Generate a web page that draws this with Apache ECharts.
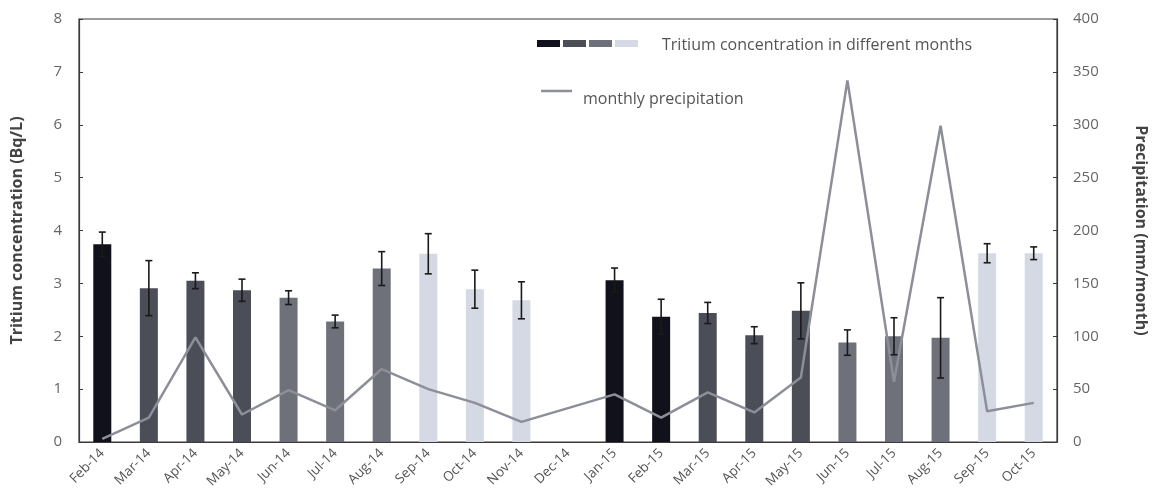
<!DOCTYPE html>
<html>
<head>
<meta charset="utf-8">
<script src="https://cdn.jsdelivr.net/npm/echarts@6/dist/echarts.min.js"></script>
<style>
  html, body { margin: 0; padding: 0; background: #fff; }
  #chart { width: 1153px; height: 501px; }
</style>
</head>
<body>
<div id="chart"></div>
<script>
// Monthly sampling periods
const months = ['Feb-14','Mar-14','Apr-14','May-14','Jun-14','Jul-14','Aug-14','Sep-14','Oct-14','Nov-14','Dec-14',
                'Jan-15','Feb-15','Mar-15','Apr-15','May-15','Jun-15','Jul-15','Aug-15','Sep-15','Oct-15'];
// Tritium concentration (Bq/L), null where no sample
const tritium = [3.74, 2.91, 3.05, 2.87, 2.73, 2.28, 3.28, 3.56, 2.89, 2.68, null,
                 3.06, 2.37, 2.44, 2.02, 2.48, 1.88, 2.00, 1.97, 3.57, 3.57];
// Standard deviation of tritium concentration (Bq/L)
const tritiumErr = [0.23, 0.52, 0.15, 0.21, 0.13, 0.12, 0.32, 0.38, 0.36, 0.35, null,
                    0.23, 0.33, 0.20, 0.16, 0.53, 0.24, 0.35, 0.76, 0.18, 0.12];
// Season of each month: 0 winter, 1 spring, 2 summer, 3 autumn
const season = [0,1,1,1,2,2,2,3,3,3,0, 0,0,1,1,1,2,2,2,3,3];
// Monthly precipitation (mm/month)
const precipitation = [3, 23, 99, 26, 49, 30, 69, 50, 37, 19, 32,
                       45, 23, 47, 28, 61, 342, 57, 299, 29, 37];
// Axis tick values
const leftTicks = { min: 0, max: 8, interval: 1 };
const rightTicks = { min: 0, max: 400, interval: 50 };

const seasonColors = ['#10111a', '#4b4d57', '#6f717a', '#d4d9e4'];
const lineColor = '#8c8f98';
const font = '"Open Sans", Lato, sans-serif';

const chart = echarts.init(document.getElementById('chart'), null, { renderer: 'canvas' });

const barData = tritium.map((v, i) => ({
  value: v,
  itemStyle: { color: seasonColors[season[i]] }
}));

const errData = tritium.map((v, i) => (v == null ? null : [i, v, tritiumErr[i]])).filter(d => d);

chart.setOption({
  animation: false,
  backgroundColor: '#ffffff',
  grid: {
    left: 79, right: 96, top: 19, bottom: 59,
    outerBoundsMode: 'none',
    containLabel: false,
    show: true, borderColor: '#3a3a3a', borderWidth: 1.2, backgroundColor: 'transparent'
  },
  xAxis: {
    type: 'category',
    data: months,
    axisLine: { lineStyle: { color: '#3a3a3a', width: 1.2 } },
    axisTick: { show: false },
    axisLabel: { rotate: 45, color: '#555', fontSize: 13.5, fontFamily: font, margin: 9, interval: 0 }
  },
  yAxis: [
    {
      type: 'value',
      min: leftTicks.min, max: leftTicks.max, interval: leftTicks.interval,
      name: 'Tritium concentration (Bq/L)',
      nameLocation: 'middle', nameGap: 54, nameRotate: 90,
      nameTextStyle: { color: '#444', fontSize: 16, fontWeight: 'bold', fontFamily: font },
      axisLine: { show: true, lineStyle: { color: '#3a3a3a', width: 1.2 } },
      axisTick: { show: true, inside: true, length: 4, lineStyle: { color: '#3a3a3a' } },
      axisLabel: { color: '#666', fontSize: 15, fontFamily: font, margin: 17 },
      splitLine: { show: false }
    },
    {
      type: 'value',
      position: 'right',
      min: rightTicks.min, max: rightTicks.max, interval: rightTicks.interval,
      name: 'Precipitation (mm/month)',
      nameLocation: 'middle', nameGap: 76, nameRotate: -90,
      nameTextStyle: { color: '#444', fontSize: 16, fontWeight: 'bold', fontFamily: font },
      axisLine: { show: true, lineStyle: { color: '#3a3a3a', width: 1.2 } },
      axisTick: { show: true, inside: true, length: 4, lineStyle: { color: '#3a3a3a' } },
      axisLabel: { color: '#666', fontSize: 15, fontFamily: font, margin: 16 },
      splitLine: { show: false }
    }
  ],
  series: [
    {
      name: 'Tritium concentration in different months',
      type: 'bar',
      yAxisIndex: 0,
      barWidth: 18,
      data: barData,
      z: 2
    },
    {
      name: 'error',
      type: 'custom',
      yAxisIndex: 0,
      data: errData,
      z: 4,
      renderItem: function (params, api) {
        const x = api.value(0);
        const v = api.value(1);
        const e = api.value(2);
        const top = api.coord([x, v + e]);
        const bot = api.coord([x, v - e]);
        const cap = 3.5;
        const style = { stroke: '#1a1a1a', lineWidth: 1.6 };
        return {
          type: 'group',
          children: [
            { type: 'line', shape: { x1: top[0], y1: top[1], x2: bot[0], y2: bot[1] }, style },
            { type: 'line', shape: { x1: top[0] - cap, y1: top[1], x2: top[0] + cap, y2: top[1] }, style },
            { type: 'line', shape: { x1: bot[0] - cap, y1: bot[1], x2: bot[0] + cap, y2: bot[1] }, style }
          ]
        };
      }
    },
    {
      name: 'monthly precipitation',
      type: 'line',
      yAxisIndex: 1,
      data: precipitation,
      symbol: 'none',
      lineStyle: { color: lineColor, width: 2.5 },
      z: 3
    }
  ],
  graphic: [
    // season swatches for the tritium legend entry
    { type: 'rect', shape: { x: 537, y: 40, width: 23, height: 7 }, style: { fill: seasonColors[0] } },
    { type: 'rect', shape: { x: 563, y: 40, width: 23, height: 7 }, style: { fill: seasonColors[1] } },
    { type: 'rect', shape: { x: 589, y: 40, width: 23, height: 7 }, style: { fill: seasonColors[2] } },
    { type: 'rect', shape: { x: 615, y: 40, width: 23, height: 7 }, style: { fill: seasonColors[3] } },
    { type: 'text', x: 662, y: 45, style: { text: 'Tritium concentration in different months', fill: '#555', fontSize: 16, fontFamily: font, verticalAlign: 'middle' } },
    // precipitation legend entry
    { type: 'line', shape: { x1: 541, y1: 91, x2: 572, y2: 91 }, style: { stroke: lineColor, lineWidth: 2.5 } },
    { type: 'text', x: 583, y: 99, style: { text: 'monthly precipitation', fill: '#555', fontSize: 16, fontFamily: font, verticalAlign: 'middle' } }
  ]
});
</script>
</body>
</html>
